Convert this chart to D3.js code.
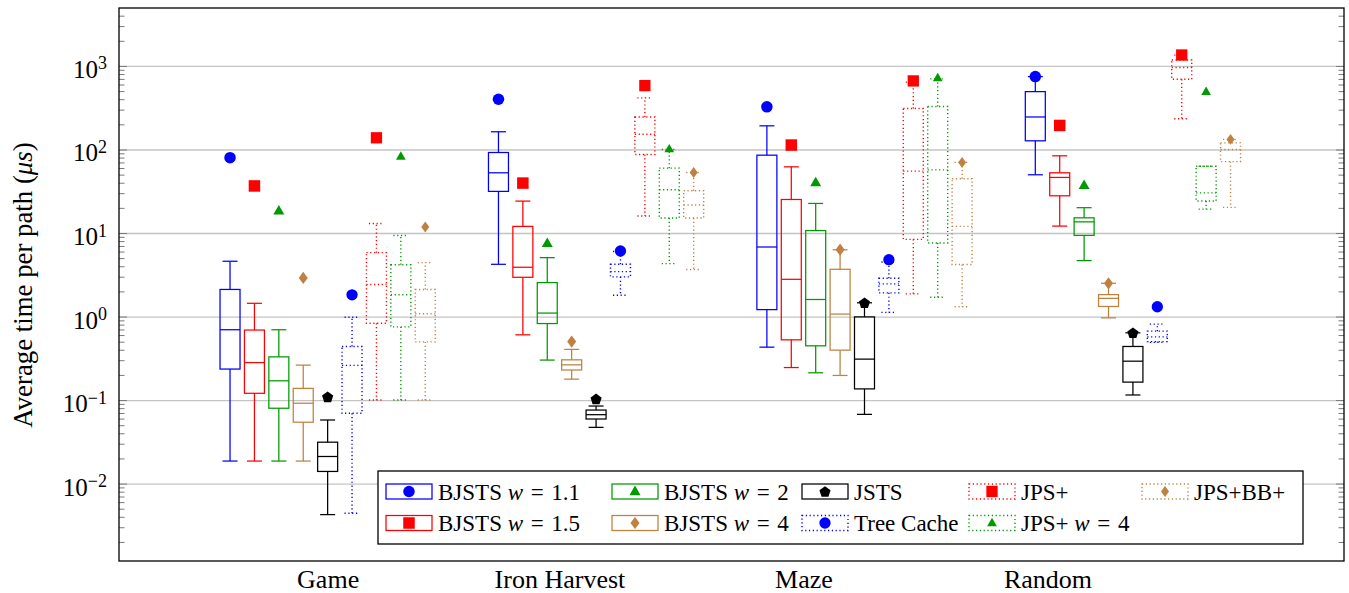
<!DOCTYPE html>
<html><head><meta charset="utf-8">
<script src="https://cdn.jsdelivr.net/npm/d3@7/dist/d3.min.js"></script>
<style>
body{margin:0;background:#fff}
text{font-family:"Liberation Serif","Times New Roman",serif;fill:#000}
</style>
</head><body>
<svg id="chart" width="1349" height="593"></svg>
<script>
// ---------------- DATA ----------------
const categories = ["Game", "Iron Harvest", "Maze", "Random"];
const categoryTickSlots = [5, 14.5, 24.5, 34.5];
const yTickExponents = [-2, -1, 0, 1, 2, 3];

// rows per category: [lowWhisker, q1, median, q3, highWhisker, mean]
const bjsts11 = [
  [0.0186, 0.235, 0.695, 2.11, 4.59, 79.8],
  [4.22, 31.5, 52.6, 92, 163, 400],
  [0.43, 1.21, 6.8, 85.5, 192, 324],
  [49.8, 127, 245, 493, 746, 746]
];
const bjsts15 = [
  [0.0186, 0.1205, 0.281, 0.689, 1.44, 36.6],
  [0.604, 2.95, 3.89, 12.0, 24.1, 39.6],
  [0.245, 0.526, 2.79, 25.2, 62, 113],
  [12.1, 27.9, 46.3, 52.6, 84, 194]
];
const bjsts2 = [
  [0.0186, 0.0798, 0.170, 0.329, 0.695, 18.4],
  [0.301, 0.824, 1.10, 2.55, 5.07, 7.52],
  [0.212, 0.446, 1.60, 10.7, 22.6, 40],
  [4.67, 9.37, 13.6, 15.2, 20.1, 37.1]
];
const bjsts4 = [
  [0.0186, 0.0543, 0.0916, 0.138, 0.262, 2.90],
  [0.178, 0.229, 0.264, 0.303, 0.404, 0.502],
  [0.197, 0.396, 1.07, 3.68, 6.3, 6.32],
  [0.964, 1.32, 1.65, 1.83, 2.5, 2.50]
];
const jsts = [
  [0.00425, 0.01397, 0.0211, 0.0313, 0.0577, 0.109],
  [0.0471, 0.0593, 0.0668, 0.0759, 0.0848, 0.103],
  [0.0674, 0.136, 0.309, 0.99, 1.46, 1.46],
  [0.115, 0.164, 0.292, 0.438, 0.638, 0.638]
];
const treeCache = [
  [0.00442, 0.0695, 0.260, 0.438, 0.98, 1.82],
  [1.80, 2.98, 3.45, 4.22, 6.0, 6.09],
  [1.12, 1.92, 2.46, 2.87, 4.5, 4.80],
  [0.49, 0.50, 0.57, 0.668, 0.81, 1.31]
];
const jpsPlus = [
  [0.1, 0.83, 2.42, 5.82, 13.0, 138],
  [16.0, 87, 152, 245, 415, 582],
  [1.87, 8.4, 55, 309, 640, 662],
  [233, 693, 960, 1180, 1350, 1353]
];
const jpsPlus4 = [
  [0.1, 0.751, 1.82, 4.17, 9.33, 82.2],
  [4.30, 15.1, 33, 59.8, 100, 101],
  [1.70, 7.6, 57, 327, 700, 719],
  [19.3, 24.2, 30.2, 63, 63, 491]
];
const jpsBB = [
  [0.1, 0.497, 1.08, 2.11, 4.42, 11.8],
  [3.65, 15.1, 21.6, 32.1, 53, 53.1],
  [1.31, 4.19, 12.0, 44.6, 70, 70],
  [20.3, 71.5, 100, 120, 132, 132]
];

const seriesLabels = [
  ["BJSTS ", "w", "\u2004=\u20041.1"], ["BJSTS ", "w", "\u2004=\u20041.5"], ["BJSTS ", "w", "\u2004=\u20042"],
  ["BJSTS ", "w", "\u2004=\u20044"], ["JSTS", "", ""], ["Tree Cache", "", ""],
  ["JPS+", "", ""], ["JPS+ ", "w", "\u2004=\u20044"], ["JPS+BB+", "", ""]
];
const seriesData = [bjsts11, bjsts15, bjsts2, bjsts4, jsts, treeCache, jpsPlus, jpsPlus4, jpsBB];

// ---------------- STYLES ----------------
const blue = "#0000ff", red = "#ff0000", green = "#009a00", brown = "#bf8040", black = "#000000";
const seriesStyle = [
  {color: blue,  dotted: false, mark: "circle",   s: 11.5},
  {color: red,   dotted: false, mark: "square",   s: 11.5},
  {color: green, dotted: false, mark: "triangle", s: 11},
  {color: brown, dotted: false, mark: "diamond",  s: 9},
  {color: black, dotted: false, mark: "pentagon", s: 11.5},
  {color: blue,  dotted: true,  mark: "circle",   s: 11.3},
  {color: red,   dotted: true,  mark: "square",   s: 11.3},
  {color: green, dotted: true,  mark: "triangle", s: 9.7},
  {color: brown, dotted: true,  mark: "diamond",  s: 8}
];

function markPath(type, s) {
  const h = s / 2;
  if (type === "circle") {
    const p = d3.path(); p.arc(0, 0, h, 0, 2 * Math.PI); return p.toString();
  }
  if (type === "square") return `M${-h},${-h}H${h}V${h}H${-h}Z`;
  if (type === "triangle") { const th = s * 0.87; return `M0,${-th*0.62}L${h},${th*0.38}L${-h},${th*0.38}Z`; }
  if (type === "diamond") { const v = s * 0.68; return `M0,${-v}L${h},0L0,${v}L${-h},0Z`; }
  if (type === "pentagon") {
    const r = s / 2 * 1.02; let d = "";
    for (let i = 0; i < 5; i++) {
      const a = -Math.PI / 2 + i * 2 * Math.PI / 5;
      d += (i ? "L" : "M") + (r * Math.cos(a)).toFixed(2) + "," + (r * Math.sin(a) + 0.5).toFixed(2);
    }
    return d + "Z";
  }
}

// ---------------- LAYOUT ----------------
const svg = d3.select("#chart");
const L = 119, R = 1344, T = 8, B = 561;
const x = d3.scaleLinear().domain([-3.55, 46.65]).range([L, R]);
const y = d3.scaleLog().domain([Math.pow(10, -2.927), Math.pow(10, 3.694)]).range([B, T]);

const majorTicks = yTickExponents.map(e => Math.pow(10, e));
const minorTicks = [];
for (let e = -3; e <= 3; e++) for (let m = 2; m <= 9; m++) {
  const v = m * Math.pow(10, e);
  if (v >= y.domain()[0] && v <= y.domain()[1]) minorTicks.push(v);
}
// grid
svg.append("g").attr("transform", `translate(${L},0)`)
  .call(d3.axisLeft(y).tickValues(majorTicks).tickSize(-(R - L)).tickFormat(""))
  .call(g => g.select(".domain").remove())
  .call(g => g.selectAll("line").attr("stroke", "#c4c4c4").attr("stroke-width", 1.3));

// boxes
const boxW = 20, capW = 15;
seriesData.forEach((rows, si) => {
  const st = seriesStyle[si];
  const g = svg.append("g").attr("stroke", st.color).attr("fill", "none")
    .attr("stroke-width", st.dotted ? 1.4 : 1.25)
    .attr("stroke-dasharray", st.dotted ? "1.2,2.6" : null);
  rows.forEach((r, ci) => {
    const cx = x(ci * 11 + si + 1);
    const [lo, q1, med, q3, hi] = r;
    g.append("rect").attr("x", cx - boxW / 2).attr("y", y(q3)).attr("width", boxW).attr("height", y(q1) - y(q3));
    g.append("line").attr("x1", cx - boxW / 2).attr("x2", cx + boxW / 2).attr("y1", y(med)).attr("y2", y(med));
    g.append("line").attr("x1", cx).attr("x2", cx).attr("y1", y(q3)).attr("y2", y(hi));
    g.append("line").attr("x1", cx).attr("x2", cx).attr("y1", y(q1)).attr("y2", y(lo));
    g.append("line").attr("x1", cx - capW / 2).attr("x2", cx + capW / 2).attr("y1", y(hi)).attr("y2", y(hi));
    g.append("line").attr("x1", cx - capW / 2).attr("x2", cx + capW / 2).attr("y1", y(lo)).attr("y2", y(lo));
  });
});
// means
seriesData.forEach((rows, si) => {
  const st = seriesStyle[si];
  svg.append("g").selectAll("path").data(rows).join("path")
    .attr("transform", (r, ci) => `translate(${x(ci * 11 + si + 1)},${y(r[5])})`)
    .attr("d", markPath(st.mark, st.s))
    .attr("fill", st.color);
});

// ticks (inward) left & right
function tickAxis(axisFn, xpos, vals, len) {
  svg.append("g").attr("transform", `translate(${xpos},0)`)
    .call(axisFn(y).tickValues(vals).tickSize(-len).tickFormat(""))
    .call(g => g.select(".domain").remove())
    .call(g => g.selectAll("line").attr("stroke", "#7a7a7a").attr("stroke-width", 1));
}
tickAxis(d3.axisLeft, L, minorTicks, 5.5);
tickAxis(d3.axisLeft, L, majorTicks, 8);
tickAxis(d3.axisRight, R, minorTicks, 5.5);
tickAxis(d3.axisRight, R, majorTicks, 8);

// y tick labels
const yl = svg.append("g").attr("transform", `translate(${L},0)`)
  .call(d3.axisLeft(y).tickValues(majorTicks).tickSize(0).tickFormat(""));
yl.select(".domain").remove();
yl.selectAll(".tick").each(function(d) {
  const t = d3.select(this).append("text").attr("x", -12).attr("y", 11.5)
    .attr("text-anchor", "end").style("font-size", "25px");
  t.append("tspan").text("10");
  t.append("tspan").attr("dy", -8.5).style("font-size", "18px")
    .text(Math.round(Math.log10(d)).toString().replace("-", "\u2212"));
});

// x axis labels
const xa = svg.append("g").attr("transform", `translate(0,${B})`)
  .call(d3.axisBottom(x).tickValues(categoryTickSlots).tickSize(0).tickFormat((d, i) => categories[i]));
xa.select(".domain").remove();
xa.selectAll("text").attr("y", 27).attr("dy", null).style("font-size", "26px").attr("font-family", null);

// frame
svg.append("rect").attr("x", L).attr("y", T).attr("width", R - L).attr("height", B - T)
  .attr("fill", "none").attr("stroke", "#000").attr("stroke-width", 1.3);

// y label
const ylab = svg.append("text").attr("transform", `translate(32,285) rotate(-90)`)
  .attr("text-anchor", "middle").style("font-size", "26.8px");
ylab.append("tspan").text("Average time per path (");
ylab.append("tspan").style("font-style", "italic").text("\u03bcs");
ylab.append("tspan").text(")");

// legend
const lgX = 378, lgY = 471, lgW = 925, lgH = 73;
const lg = svg.append("g");
lg.append("rect").attr("x", lgX).attr("y", lgY).attr("width", lgW).attr("height", lgH)
  .attr("fill", "#fff").attr("stroke", "#000").attr("stroke-width", 1.3);
const colOffsets = [8, 234, 424, 591, 764];
const rowOffsets = [20.5, 52];
seriesLabels.forEach((lab, si) => {
  const col = Math.floor(si / 2), row = si % 2;
  const st = seriesStyle[si];
  const sx = lgX + colOffsets[col], cy = lgY + rowOffsets[row];
  lg.append("rect").attr("x", sx).attr("y", cy - 7.5).attr("width", 46).attr("height", 15)
    .attr("fill", "none").attr("stroke", st.color).attr("stroke-width", st.dotted ? 1.4 : 1.25)
    .attr("stroke-dasharray", st.dotted ? "1.2,2.6" : null);
  lg.append("path").attr("transform", `translate(${sx + 23},${cy})`)
    .attr("d", markPath(st.mark, st.s)).attr("fill", st.color);
  const t = lg.append("text").attr("x", sx + 52).attr("y", cy + 8).style("font-size", "23px");
  t.append("tspan").text(lab[0]);
  if (lab[1]) t.append("tspan").style("font-style", "italic").text(lab[1]);
  if (lab[2]) t.append("tspan").text(lab[2]);
});
</script>
</body></html>
